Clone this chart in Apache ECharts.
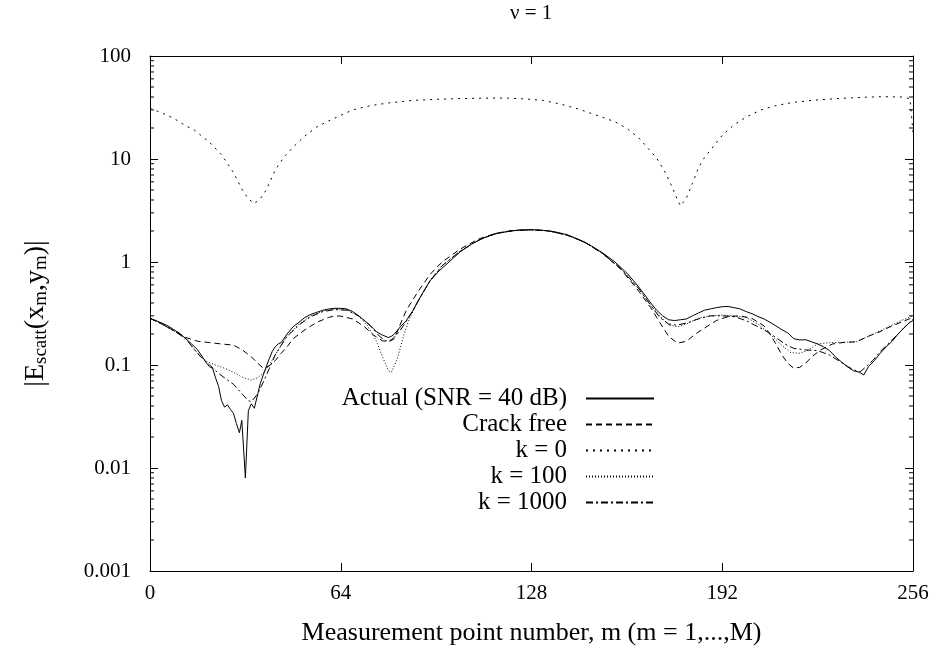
<!DOCTYPE html>
<html>
<head>
<meta charset="utf-8">
<script src="https://cdn.jsdelivr.net/npm/echarts/dist/echarts.min.js"></script>
<style>
  html, body { margin: 0; padding: 0; background: #fff; }
  #chart { width: 938px; height: 655px; }
</style>
</head>
<body>
<div id="chart"></div>
<script>
var seriesNames = ['Actual (SNR = 40 dB)', 'Crack free', 'k = 0', 'k = 100', 'k = 1000'];
var xTicks = [0, 64, 128, 192, 256];

var actual = [
  [0, 0.284], [2, 0.27], [4, 0.255], [6, 0.24], [8, 0.22], [10, 0.203], [12, 0.18], [14, 0.16],
  [16, 0.14], [18, 0.115], [19, 0.104], [20, 0.096], [21, 0.093], [22, 0.075], [23, 0.062],
  [24, 0.045], [25, 0.039], [26, 0.041], [27, 0.037], [28, 0.034], [29, 0.027], [30, 0.022],
  [30.8, 0.029], [32, 0.008], [33, 0.036], [34, 0.042], [35, 0.038], [36, 0.05], [37, 0.066],
  [38, 0.08], [39, 0.096], [40, 0.115], [41, 0.135], [42, 0.15], [43, 0.16], [44, 0.165],
  [46, 0.2], [48, 0.235], [50, 0.26], [52, 0.29], [54, 0.31], [56, 0.325], [58, 0.34],
  [60, 0.35], [62, 0.355], [64, 0.355], [66, 0.35], [68, 0.33], [70, 0.3], [72, 0.27],
  [74, 0.24], [76, 0.21], [78, 0.195], [80, 0.185], [81, 0.19], [82, 0.2], [84, 0.235],
  [86, 0.27], [88, 0.33], [90, 0.42], [92, 0.53], [94, 0.66], [97, 0.82], [100, 0.98],
  [104, 1.25], [108, 1.5], [112, 1.72], [116, 1.88], [120, 1.98], [124, 2.04], [128, 2.06],
  [132, 2.03], [136, 1.96], [140, 1.84], [144, 1.65], [148, 1.44], [152, 1.22], [156, 1.0],
  [160, 0.78], [163, 0.62], [166, 0.48], [168, 0.4], [170, 0.34], [172, 0.3], [174, 0.275],
  [176, 0.27], [178, 0.275], [180, 0.28], [182, 0.3], [184, 0.32], [186, 0.34], [188, 0.35],
  [190, 0.36], [192, 0.368], [194, 0.37], [196, 0.36], [198, 0.35], [200, 0.33], [202, 0.315],
  [204, 0.295], [206, 0.28], [208, 0.26], [210, 0.24], [212, 0.22], [214, 0.205], [216, 0.18],
  [218, 0.175], [220, 0.176], [222, 0.168], [224, 0.16], [226, 0.15], [228, 0.138], [230, 0.12],
  [232, 0.107], [234, 0.096], [236, 0.088], [238, 0.085], [239.5, 0.08], [241, 0.096],
  [243, 0.11], [245, 0.13], [247, 0.15], [249, 0.17], [251, 0.2], [253, 0.23], [255, 0.26],
  [256, 0.27]
];

var crackFree = [
  [0, 0.284], [4, 0.25], [8, 0.215], [12, 0.185], [16, 0.17], [20, 0.165], [24, 0.16],
  [28, 0.156], [31, 0.14], [34, 0.12], [36, 0.105], [38, 0.093], [40, 0.098], [42, 0.11],
  [44, 0.13], [46, 0.15], [48, 0.18], [52, 0.22], [56, 0.26], [60, 0.29], [62, 0.3],
  [64, 0.298], [68, 0.28], [72, 0.235], [75, 0.195], [78, 0.172], [80, 0.168], [82, 0.18],
  [84, 0.25], [86, 0.34], [88, 0.42], [90, 0.52], [94, 0.76], [98, 1.0], [104, 1.33],
  [110, 1.66], [116, 1.9], [122, 2.03], [128, 2.06], [134, 2.0], [140, 1.82], [146, 1.55],
  [152, 1.2], [158, 0.85], [164, 0.52], [168, 0.36], [171, 0.26], [174, 0.19], [177, 0.163],
  [180, 0.17], [183, 0.2], [186, 0.228], [190, 0.27], [194, 0.295], [198, 0.3], [202, 0.283],
  [206, 0.24], [208, 0.2], [210, 0.16], [212, 0.125], [214, 0.104], [216, 0.093], [218, 0.095],
  [220, 0.104], [222, 0.12], [225, 0.14], [229, 0.16], [233, 0.166], [237, 0.168], [241, 0.19],
  [245, 0.211], [249, 0.24], [252, 0.26], [256, 0.29]
];

var kZero = [
  [0, 31], [4, 28], [8, 24.8], [12, 21], [15, 19], [20, 14.5], [24, 11], [28, 7.4], [31, 5],
  [33, 4.1], [35, 3.7], [37, 4.1], [39, 5], [42, 7.8], [45, 10.5], [48, 13], [52, 16.8],
  [56, 20.5], [60, 23.5], [64, 26.5], [68, 30], [74, 33], [80, 35], [88, 37], [96, 38],
  [104, 38.6], [112, 39], [120, 39], [126, 38.3], [132, 37], [138, 34], [144, 30.4],
  [150, 26.5], [156, 23], [160, 19.8], [164, 16], [167, 12.8], [170, 10.2], [173, 7.3],
  [175, 5.5], [177, 4], [178, 3.5], [180, 4.2], [182, 5.8], [184, 8.2], [186, 10.3],
  [189, 13.2], [192, 17], [196, 21.5], [200, 25.5], [205, 30], [210, 33], [216, 35.5],
  [224, 37.5], [232, 38.8], [240, 39.8], [246, 40.3], [252, 40], [255, 38.5], [256, 18]
];

var kHundred = [
  [0, 0.284], [4, 0.25], [8, 0.215], [12, 0.18], [16, 0.13], [19, 0.108], [22, 0.1],
  [25, 0.093], [28, 0.085], [31, 0.076], [34, 0.0715], [36, 0.075], [38, 0.083], [40, 0.1],
  [42, 0.125], [44, 0.155], [46, 0.19], [50, 0.25], [54, 0.3], [58, 0.335], [62, 0.35],
  [66, 0.345], [70, 0.3], [73, 0.24], [76, 0.17], [78, 0.12], [80, 0.088], [81, 0.085],
  [83, 0.115], [85, 0.19], [87, 0.28], [90, 0.42], [94, 0.66], [98, 0.92], [104, 1.27],
  [110, 1.62], [116, 1.89], [122, 2.02], [128, 2.05], [134, 2.0], [140, 1.82], [146, 1.55],
  [152, 1.2], [158, 0.86], [164, 0.55], [168, 0.38], [171, 0.3], [174, 0.245], [177, 0.235],
  [180, 0.25], [184, 0.285], [188, 0.3], [192, 0.305], [196, 0.3], [200, 0.29], [204, 0.25],
  [208, 0.2], [212, 0.155], [215, 0.132], [218, 0.13], [221, 0.14], [224, 0.16], [228, 0.165],
  [233, 0.166], [237, 0.168], [241, 0.19], [245, 0.215], [249, 0.245], [252, 0.27], [256, 0.3]
];

var kThousand = [
  [0, 0.284], [4, 0.25], [8, 0.215], [12, 0.18], [15, 0.14], [17, 0.12], [20, 0.1],
  [23, 0.083], [25, 0.075], [28, 0.065], [31, 0.052], [33, 0.045], [34, 0.044], [36, 0.052],
  [38, 0.068], [40, 0.092], [42, 0.125], [44, 0.155], [46, 0.19], [50, 0.245], [54, 0.295],
  [58, 0.33], [62, 0.345], [66, 0.34], [70, 0.3], [74, 0.24], [77, 0.19], [79, 0.172],
  [81, 0.175], [83, 0.2], [85, 0.24], [88, 0.33], [90, 0.42], [94, 0.66], [98, 0.92],
  [104, 1.27], [110, 1.62], [116, 1.89], [122, 2.02], [128, 2.05], [134, 2.0], [140, 1.82],
  [146, 1.55], [152, 1.2], [158, 0.86], [164, 0.55], [168, 0.38], [171, 0.29], [174, 0.25],
  [176.6, 0.244], [180, 0.255], [184, 0.28], [188, 0.3], [192, 0.3], [196, 0.295], [200, 0.27],
  [204, 0.235], [207, 0.211], [210, 0.185], [213, 0.16], [216, 0.145], [220, 0.14],
  [224, 0.138], [228, 0.125], [231.5, 0.108], [234, 0.097], [236, 0.09], [238.3, 0.086],
  [240, 0.095], [242.7, 0.112], [245, 0.135], [248.3, 0.168], [251, 0.2], [253, 0.23],
  [256, 0.28]
];

// minor ticks of the log axis (2..9 per decade), drawn on both sides of the frame
var minorTicks = [];
[0.001, 0.01, 0.1, 1, 10].forEach(function (d) {
  for (var i = 2; i <= 9; i++) minorTicks.push([0, +(d * i).toPrecision(3)]);
});

var font = 'Liberation Serif';

function lineSeries(name, data, type) {
  return {
    name: name,
    type: 'line',
    data: data,
    symbol: 'none',
    smooth: false,
    animation: false,
    lineStyle: { color: '#000', width: 1, type: type },
    itemStyle: { color: '#000' }
  };
}

var myChart = echarts.init(document.getElementById('chart'));

var option = {
  backgroundColor: '#fff',
  animation: false,
  title: {
    text: 'ν = 1',
    left: 510,
    top: 3,
    padding: 0,
    textStyle: { fontFamily: font, fontSize: 21, fontWeight: 'normal', color: '#000' }
  },
  legend: {
    data: seriesNames,
    orient: 'vertical',
    align: 'right',
    right: 278,
    top: 381,
    itemWidth: 68,
    itemHeight: 14,
    itemGap: 1,
    selectedMode: false,
    itemStyle: { opacity: 0 },
    textStyle: { fontFamily: font, fontSize: 25, color: '#000', lineHeight: 22, padding: [0, 14, 0, 0] }
  },
  grid: { left: 150, right: 25, top: 56, bottom: 84 },
  xAxis: [{
    type: 'value',
    min: xTicks[0],
    max: xTicks[xTicks.length - 1],
    interval: 64,
    name: 'Measurement point number, m (m = 1,...,M)',
    nameLocation: 'middle',
    nameGap: 49,
    nameTextStyle: { fontFamily: font, fontSize: 26, color: '#000' },
    axisLine: { lineStyle: { color: '#000', width: 1 } },
    axisTick: { inside: true, length: 8, lineStyle: { color: '#000' } },
    axisLabel: { fontFamily: font, fontSize: 21, color: '#000', margin: 12 },
    splitLine: { show: false }
  }, {
    type: 'value',
    position: 'top',
    min: xTicks[0],
    max: xTicks[xTicks.length - 1],
    interval: 64,
    axisLine: { onZero: false, lineStyle: { color: '#000', width: 1 } },
    axisTick: { inside: true, length: 8, lineStyle: { color: '#000' } },
    axisLabel: { show: false },
    splitLine: { show: false }
  }],
  yAxis: [{
    type: 'log',
    logBase: 10,
    min: 0.001,
    max: 100,
    interval: 1,
    name: '|E{s|scatt}(x{s|m},y{s|m})|',
    nameLocation: 'middle',
    nameRotate: 90,
    nameGap: 99,
    nameTextStyle: {
      fontFamily: font, fontSize: 28, color: '#000',
      rich: {
        s: { fontFamily: font, fontSize: 19, color: '#000', verticalAlign: 'bottom', padding: [11, 0, 0, 0] }
      }
    },
    axisLine: { lineStyle: { color: '#000', width: 1 } },
    axisTick: { inside: true, length: 8, lineStyle: { color: '#000' } },
    axisLabel: {
      fontFamily: font, fontSize: 21, color: '#000', margin: 19,
      formatter: function (v) { return String(+v.toPrecision(3)); }
    },
    splitLine: { show: false }
  }, {
    type: 'log',
    logBase: 10,
    min: 0.001,
    max: 100,
    interval: 1,
    position: 'right',
    axisLine: { onZero: false, lineStyle: { color: '#000', width: 1 } },
    axisTick: { inside: true, length: 8, lineStyle: { color: '#000' } },
    axisLabel: { show: false },
    splitLine: { show: false }
  }],
  series: [
    lineSeries(seriesNames[0], actual, 'solid'),
    lineSeries(seriesNames[1], crackFree, [6, 4]),
    lineSeries(seriesNames[2], kZero, [2, 5]),
    lineSeries(seriesNames[3], kHundred, [1, 2]),
    lineSeries(seriesNames[4], kThousand, [7, 3, 2, 3]),
    {
      type: 'custom',
      silent: true,
      animation: false,
      data: minorTicks,
      encode: { x: 0, y: 1 },
      renderItem: function (params, api) {
        var v = api.value(1);
        var l = api.coord([0, v]);
        var r = api.coord([256, v]);
        return {
          type: 'group',
          children: [
            { type: 'line', shape: { x1: l[0], y1: l[1], x2: l[0] + 4, y2: l[1] }, style: { stroke: '#000', lineWidth: 1 } },
            { type: 'line', shape: { x1: r[0] - 4, y1: r[1], x2: r[0], y2: r[1] }, style: { stroke: '#000', lineWidth: 1 } }
          ]
        };
      }
    }
  ]
};

myChart.setOption(option);
</script>
</body>
</html>
